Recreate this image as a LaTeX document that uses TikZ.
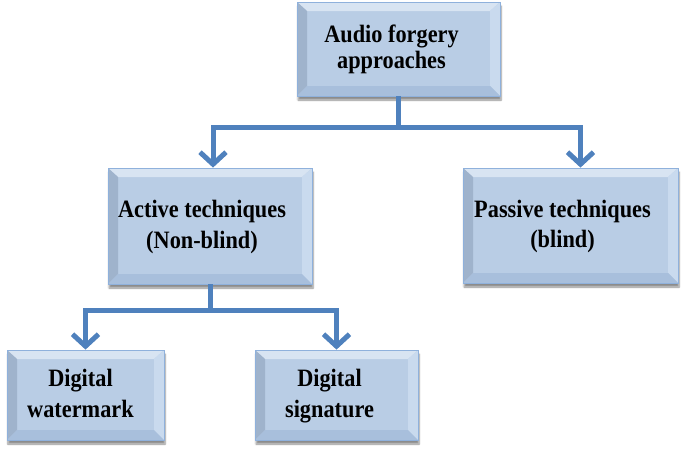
\documentclass[tikz,border=0pt]{standalone}
\usepackage{fontspec}
\setmainfont{Liberation Serif}
\usetikzlibrary{arrows.meta,shadows.blur}
\definecolor{face}{HTML}{B9CDE5}
\definecolor{bevtop}{HTML}{D8E4F2}
\definecolor{bevleft}{HTML}{9FB3CC}
\definecolor{bevright}{HTML}{C9DAEE}
\definecolor{bevbot}{HTML}{A8BFDC}
\definecolor{edgec}{HTML}{8FB1DC}
\definecolor{arrc}{HTML}{4F81BD}
\newcommand\boxtext[2][27]{\scalebox{1}[1.12]{\fontsize{22.3}{#1}\selectfont\bfseries\begin{tabular}{@{}c@{}}#2\end{tabular}}}
\tikzset{
  bev/.style={draw=edgec, line width=0.8pt, fill=face, inner sep=0pt,
    blur shadow={shadow xshift=1pt, shadow yshift=-4pt, shadow blur steps=6, shadow opacity=45},
    path picture={
      \fill[bevtop] (path picture bounding box.north west) -- (path picture bounding box.north east)
        -- ([shift={(-10pt,-9pt)}]path picture bounding box.north east) -- ([shift={(10pt,-9pt)}]path picture bounding box.north west) -- cycle;
      \fill[bevleft] (path picture bounding box.north west) -- (path picture bounding box.south west)
        -- ([shift={(10pt,10pt)}]path picture bounding box.south west) -- ([shift={(10pt,-9pt)}]path picture bounding box.north west) -- cycle;
      \fill[bevright] (path picture bounding box.north east) -- (path picture bounding box.south east)
        -- ([shift={(-10pt,10pt)}]path picture bounding box.south east) -- ([shift={(-10pt,-9pt)}]path picture bounding box.north east) -- cycle;
      \fill[bevbot] (path picture bounding box.south west) -- (path picture bounding box.south east)
        -- ([shift={(-10pt,10pt)}]path picture bounding box.south east) -- ([shift={(10pt,10pt)}]path picture bounding box.south west) -- cycle;
    }},
  conn/.style={draw=arrc, line width=5pt, -{Straight Barb[length=12pt,width=26pt]}},
  lbl/.style={inner sep=0pt}
}
\begin{document}
\begin{tikzpicture}[x=1pt, y=-1pt]
\useasboundingbox (0,0) rectangle (685,453);
\node[bev, minimum width=203pt, minimum height=94pt] (top) at (398.5,49) {};
\node[lbl] (toptxt) at ([xshift=-7pt,yshift=-1pt]top.center) {\boxtext[23]{Audio forgery\\approaches}};
\node[bev, minimum width=204pt, minimum height=116pt] (act) at (210,226) {};
\node[lbl] (acttxt) at ([xshift=-8pt,yshift=-1pt]act.center) {\boxtext{Active techniques\\(Non-blind)}};
\node[bev, minimum width=215pt, minimum height=115pt] (pas) at (570.5,225.5) {};
\node[lbl] (pastxt) at ([xshift=-8pt,yshift=-1pt]pas.center) {\boxtext{Passive techniques\\(blind)}};
\node[bev, minimum width=157pt, minimum height=90pt] (wm) at (85.5,395) {};
\node[lbl] (wmtxt) at ([xshift=-5pt,yshift=-1pt]wm.center) {\boxtext{Digital\\watermark}};
\node[bev, minimum width=163pt, minimum height=90pt] (sig) at (336.5,395) {};
\node[lbl] (sigtxt) at ([xshift=-7pt,yshift=-1pt]sig.center) {\boxtext{Digital\\signature}};
\coordinate (j1) at (0,127);
\coordinate (j2) at (0,310);
\draw[conn] (top.south) -- (top.south |- j1) -| ([xshift=3pt]act.north);
\draw[conn] (top.south) -- (top.south |- j1) -| ([xshift=10pt]pas.north);
\draw[conn] (act.south) -- (act.south |- j2) -| (wm.north);
\draw[conn] (act.south) -- (act.south |- j2) -| (sig.north);
\end{tikzpicture}
\end{document}
